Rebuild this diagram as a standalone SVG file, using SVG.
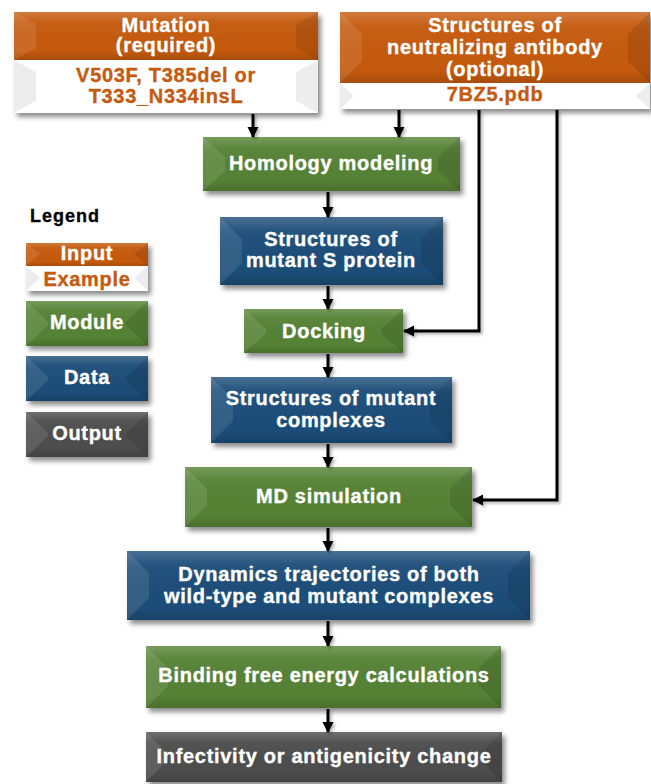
<svg xmlns="http://www.w3.org/2000/svg" width="651" height="784" viewBox="0 0 651 784">
<defs>
<filter id="sh" x="-10%" y="-20%" width="125%" height="150%"><feDropShadow dx="3" dy="4" stdDeviation="2.5" flood-color="#000" flood-opacity="0.45"/></filter>
<filter id="lsh" x="-50%" y="-50%" width="200%" height="200%"><feDropShadow dx="2" dy="2" stdDeviation="1.5" flood-color="#000" flood-opacity="0.3"/></filter>
<linearGradient id="gl" x1="0" y1="0" x2="0" y2="1"><stop offset="0" stop-color="#fff" stop-opacity="0.2"/><stop offset="0.2" stop-color="#fff" stop-opacity="0.04"/><stop offset="0.8" stop-color="#000" stop-opacity="0"/><stop offset="1" stop-color="#000" stop-opacity="0.15"/></linearGradient>
<marker id="ah" markerUnits="userSpaceOnUse" markerWidth="12" markerHeight="12" refX="10" refY="6" orient="auto"><path d="M0,0.5 L11,6 L0,11.5 z" fill="#000"/></marker>
</defs>
<style>
.g{fill:#548235}.b{fill:#1F4E79}.o{fill:#C55A11}.k{fill:#4D4D4D}.w{fill:#fff}
.gl{fill:url(#gl)}
.lt{fill:#fff;opacity:.1}.dk{fill:#000;opacity:.1}.dw{fill:#000;opacity:.07}
.t{font-family:"Liberation Sans",Arial,sans-serif;font-weight:bold;font-size:20px;letter-spacing:0.7px;fill:#fff;stroke:#fff;stroke-width:0.35px;text-anchor:middle}
.to{fill:#C55A11;stroke:#C55A11}
.c{fill:none;stroke:#000;stroke-width:3;marker-end:url(#ah)}
</style>

<g id="mutation">
<g filter="url(#sh)">
<rect x="14" y="12" width="304" height="48" class="o"/>
<rect x="14" y="60" width="304" height="53" class="w"/>
</g>
<rect x="14" y="12" width="304" height="48" class="gl"/>
<polygon points="14,12 36,24 36,48 14,60" class="lt"/>
<polygon points="318,12 296,24 296,48 318,60" class="dk"/>
<polygon points="14,60 36,72 36,101 14,113" class="dw"/>
<polygon points="318,60 296,72 296,101 318,113" class="dw"/>
<text class="t" x="166" y="32">Mutation</text>
<text class="t" x="166" y="52">(required)</text>
<text class="t to" x="166" y="82">V503F, T385del or</text>
<text class="t to" x="166" y="103">T333_N334insL</text>
</g>

<g id="antibody">
<g filter="url(#sh)">
<rect x="340" y="12" width="310" height="71" class="o"/>
<rect x="340" y="83" width="310" height="26" class="w"/>
</g>
<rect x="340" y="12" width="310" height="71" class="gl"/>
<polygon points="340,12 362,34 362,61 340,83" class="lt"/>
<polygon points="650,12 628,34 628,61 650,83" class="dk"/>
<polygon points="340,83 354,96 340,109" class="dw"/>
<polygon points="650,83 636,96 650,109" class="dw"/>
<text class="t" x="495" y="32">Structures of</text>
<text class="t" x="495" y="54">neutralizing antibody</text>
<text class="t" x="495" y="76">(optional)</text>
<text class="t to" x="495" y="101">7BZ5.pdb</text>
</g>

<g id="legend">
<text x="30" y="222" style="font-family:'Liberation Sans',Arial,sans-serif;font-weight:bold;font-size:18px;letter-spacing:1px;fill:#000;stroke:#000;stroke-width:0.3px">Legend</text>
</g>

<g id="legend-input">
<g filter="url(#sh)">
<rect x="26" y="243" width="122" height="23" class="o"/>
<rect x="26" y="266" width="122" height="25" class="w"/>
</g>
<rect x="26" y="243" width="122" height="23" class="gl"/>
<polygon points="26,243 40,254 26,266" class="lt"/>
<polygon points="148,243 134,254 148,266" class="dk"/>
<polygon points="26,266 40,278 26,291" class="dw"/>
<polygon points="148,266 134,278 148,291" class="dw"/>
<text class="t" x="87" y="260">Input</text>
<text class="t to" x="87" y="286">Example</text>
</g>

<g id="legend-module">
<rect x="26" y="301" width="122" height="45" class="g" filter="url(#sh)"/>
<rect x="26" y="301" width="122" height="45" class="gl"/>
<polygon points="26,301 48,322 48,325 26,346" class="lt"/>
<polygon points="148,301 126,322 126,325 148,346" class="dk"/>
<text class="t" x="87" y="329">Module</text>
</g>

<g id="legend-data">
<rect x="26" y="356" width="122" height="45" class="b" filter="url(#sh)"/>
<rect x="26" y="356" width="122" height="45" class="gl"/>
<polygon points="26,356 48,377 48,380 26,401" class="lt"/>
<polygon points="148,356 126,377 126,380 148,401" class="dk"/>
<text class="t" x="87" y="384">Data</text>
</g>

<g id="legend-output">
<rect x="26" y="412" width="122" height="45" class="k" filter="url(#sh)"/>
<rect x="26" y="412" width="122" height="45" class="gl"/>
<polygon points="26,412 48,433 48,436 26,457" class="lt"/>
<polygon points="148,412 126,433 126,436 148,457" class="dk"/>
<text class="t" x="87" y="440">Output</text>
</g>

<g id="homology">
<rect x="203" y="137" width="257" height="54" class="g" filter="url(#sh)"/>
<rect x="203" y="137" width="257" height="54" class="gl"/>
<polygon points="203,137 225,157 225,171 203,191" class="lt"/>
<polygon points="460,137 438,157 438,171 460,191" class="dk"/>
<text class="t" x="331" y="170">Homology modeling</text>
</g>

<g id="s-protein">
<rect x="220" y="217" width="223" height="68" class="b" filter="url(#sh)"/>
<rect x="220" y="217" width="223" height="68" class="gl"/>
<polygon points="220,217 242,239 242,263 220,285" class="lt"/>
<polygon points="443,217 421,239 421,263 443,285" class="dk"/>
<text class="t" x="331" y="246">Structures of</text>
<text class="t" x="331" y="267">mutant S protein</text>
</g>

<g id="docking">
<rect x="244" y="309" width="159" height="44" class="g" filter="url(#sh)"/>
<rect x="244" y="309" width="159" height="44" class="gl"/>
<polygon points="244,309 266,329 266,333 244,353" class="lt"/>
<polygon points="403,309 381,329 381,333 403,353" class="dk"/>
<text class="t" x="324" y="338">Docking</text>
</g>

<g id="complexes">
<rect x="211" y="377" width="241" height="66" class="b" filter="url(#sh)"/>
<rect x="211" y="377" width="241" height="66" class="gl"/>
<polygon points="211,377 233,399 233,421 211,443" class="lt"/>
<polygon points="452,377 430,399 430,421 452,443" class="dk"/>
<text class="t" x="331" y="405">Structures of mutant</text>
<text class="t" x="331" y="427">complexes</text>
</g>

<g id="md">
<rect x="185" y="467" width="287" height="60" class="g" filter="url(#sh)"/>
<rect x="185" y="467" width="287" height="60" class="gl"/>
<polygon points="185,467 207,489 207,505 185,527" class="lt"/>
<polygon points="472,467 450,489 450,505 472,527" class="dk"/>
<text class="t" x="329" y="503">MD simulation</text>
</g>

<g id="dynamics">
<rect x="127" y="551" width="403" height="69" class="b" filter="url(#sh)"/>
<rect x="127" y="551" width="403" height="69" class="gl"/>
<polygon points="127,551 149,573 149,598 127,620" class="lt"/>
<polygon points="530,551 508,573 508,598 530,620" class="dk"/>
<text class="t" x="329" y="581">Dynamics trajectories of both</text>
<text class="t" x="329" y="603">wild-type and mutant complexes</text>
</g>

<g id="binding">
<rect x="146" y="646" width="355" height="62" class="g" filter="url(#sh)"/>
<rect x="146" y="646" width="355" height="62" class="gl"/>
<polygon points="146,646 168,668 168,686 146,708" class="lt"/>
<polygon points="501,646 479,668 479,686 501,708" class="dk"/>
<text class="t" x="324" y="682">Binding free energy calculations</text>
</g>

<g id="infectivity">
<rect x="146" y="732" width="356" height="50" class="k" filter="url(#sh)"/>
<rect x="146" y="732" width="356" height="50" class="gl"/>
<polygon points="146,732 168,754 168,760 146,782" class="lt"/>
<polygon points="502,732 480,754 480,760 502,782" class="dk"/>
<text class="t" x="324" y="763">Infectivity or antigenicity change</text>
</g>

<g id="connectors" filter="url(#lsh)">
<path class="c" d="M253,114 V137"/>
<path class="c" d="M399,110 V137"/>
<path class="c" d="M328,192 V217"/>
<path class="c" d="M328,286 V309"/>
<path class="c" d="M328,354 V377"/>
<path class="c" d="M328,444 V467"/>
<path class="c" d="M328,528 V551"/>
<path class="c" d="M328,621 V646"/>
<path class="c" d="M328,709 V732"/>
<path class="c" d="M479,110 V331 H404"/>
<path class="c" d="M557,110 V500 H473"/>
</g>
</svg>
